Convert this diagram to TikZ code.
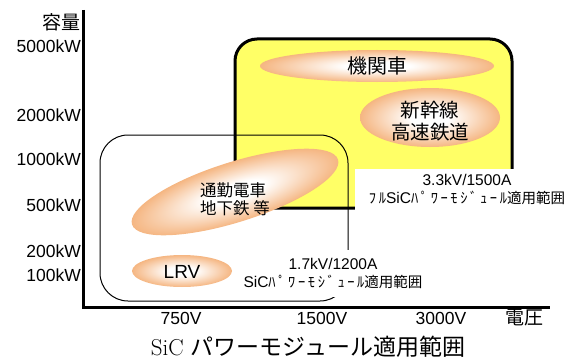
\documentclass[tikz,border=0pt]{standalone}
\usepackage{fontspec}
\newfontfamily\jp{Noto Sans CJK JP}
\newfontfamily\jpk[LetterSpace=18]{Noto Sans CJK JP}
\newfontfamily\arial{Liberation Sans}
\usetikzlibrary{shapes.geometric}
\definecolor{hilite}{RGB}{255,255,102}
\definecolor{eorange}{RGB}{245,182,130}
\pgfdeclareradialshading{glow}{\pgfpoint{0bp}{0bp}}{color(0bp)=(white); color(7bp)=(white); color(25bp)=(eorange); color(50bp)=(eorange)}
\tikzset{
  axisline/.style={line width=3pt, line join=miter},
  hibox/.style={draw, line width=3pt, fill=hilite, rounded corners=22pt, inner sep=0pt},
  lobox/.style={draw, line width=1pt, rounded corners=28pt, inner sep=0pt},
  glowell/.style={ellipse, shading=glow, inner sep=0pt},
  axlab/.style={font=\arial\fontsize{17.5}{18}\selectfont, inner sep=0pt},
  jaxlab/.style={font=\jp\fontsize{19}{20}\selectfont, inner sep=0pt},
  elab/.style={inner sep=0pt, align=center},
  rangelab/.style={fill=white, inner sep=0pt, align=center, font=\fontsize{14.5}{18}\selectfont},
}
\newcommand{\latn}[1]{{\arial\fontsize{15.5}{18}\selectfont #1}}
\begin{document}
\begin{tikzpicture}[x=1pt,y=-1pt]
\useasboundingbox (0,0) rectangle (575,361);
% high-capacity region
\node[hibox, minimum width=277pt, minimum height=169pt] (full) at (373.5,123.5) {};
% low-capacity region
\node[lobox, minimum width=248pt, minimum height=166pt] (part) at (224,218) {};
% application ellipses
\node[glowell, minimum width=234pt, minimum height=32pt] (loco) at (377,66) {};
\node[glowell, minimum width=140pt, minimum height=59pt] (shin) at (430,117.5) {};
\begin{scope}[transform canvas={shift={(235,192)}, rotate=17.5}]
\node[glowell, minimum width=216pt, minimum height=60pt] (comm) at (0,0) {};
\end{scope}
\node[glowell, minimum width=100pt, minimum height=32pt] (lrv) at (182,271) {};
% ellipse texts
\node[elab, font=\jp\fontsize{20}{22}\selectfont] (tloco) at (377,66) {機関車};
\node[elab, font=\jp\fontsize{19.5}{22}\selectfont] (tshin) at (430,121) {新幹線\\高速鉄道};
\node[elab, align=left, anchor=west, font=\jp\fontsize{16.5}{18}\selectfont] (tcomm) at (200,199) {通勤電車\\地下鉄 等};
\node[elab, font=\arial\fontsize{19}{20}\selectfont] (tlrv) at (182,272) {LRV};
% range labels
\node[rangelab, minimum width=186pt, minimum height=47pt] (lab1) at (333,273.5) {\latn{1.7kV/1200A}\\\latn{SiC}{\jpk ﾊﾟﾜｰﾓｼﾞｭｰﾙ}{\jp 適用範囲}};
\node[rangelab, minimum width=224pt, minimum height=41pt] (lab2) at (467,189.5) {\latn{3.3kV/1500A}\\{\jpk ﾌﾙ}\latn{SiC}{\jpk ﾊﾟﾜｰﾓｼﾞｭｰﾙ}{\jp 適用範囲}};
% axes
\coordinate (ytop) at (83,10);
\coordinate (orig) at (83,307);
\coordinate (xend) at (550,307);
\draw[axisline] (ytop) -- (orig) -- (xend);
% y labels
\node[jaxlab, anchor=east] (ycap) at (81,22) {容量};
\node[axlab, anchor=east] (y5000) at (81,46) {5000kW};
\node[axlab, anchor=east] (y2000) at (81,115) {2000kW};
\node[axlab, anchor=east] (y1000) at (81,159.5) {1000kW};
\node[axlab, anchor=east] (y500) at (81,205) {500kW};
\node[axlab, anchor=east] (y200) at (81,251.5) {200kW};
\node[axlab, anchor=east] (y100) at (81,275) {100kW};
% x labels
\node[axlab] (x750) at (181,318) {750V};
\node[axlab] (x1500) at (322,318) {1500V};
\node[axlab] (x3000) at (441,318) {3000V};
\node[jaxlab] (xcap) at (524,318) {電圧};
% caption
\node[inner sep=0pt, anchor=base, font=\rmfamily\fontsize{23}{25}\selectfont] (title) at (308,355) {SiC {\jp パワーモジュール適用範囲}};
\end{tikzpicture}
\end{document}
